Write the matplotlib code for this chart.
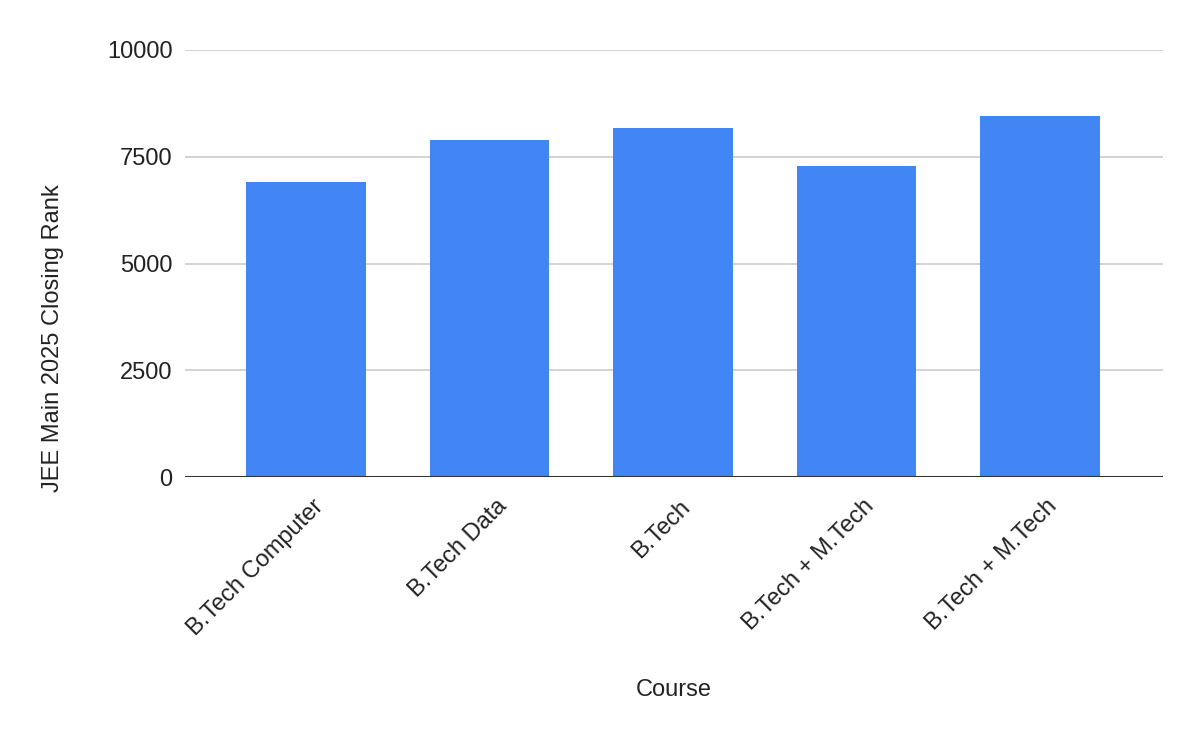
import numpy as np
from matplotlib import pyplot as plt
from matplotlib.transforms import ScaledTranslation

# course names (two of them are the same in the source chart)
courses = ["B.Tech Computer", "B.Tech Data", "B.Tech", "B.Tech + M.Tech", "B.Tech + M.Tech"]
closing_rank = [6905, 7890, 8170, 7280, 8450]
y_ticks = [0, 2500, 5000, 7500, 10000]

plt.rcParams['font.family'] = ['Liberation Sans', 'DejaVu Sans']

fig = plt.figure(figsize=(12, 7.42), dpi=100)
ax = fig.add_axes([185/1200, 1 - 477/742, 978/1200, 427/742])

x = np.arange(len(courses))
ax.bar(x, closing_rank, width=0.65, color="#4285F4", zorder=2)

ax.set_xlim(-0.66, 4.67)
ax.set_ylim(0, 10000)
ax.set_yticks(y_ticks)
ax.set_yticklabels([str(t) for t in y_ticks])
ax.yaxis.grid(True, color="#cccccc", linewidth=1.2, zorder=0)
ax.axhline(0, color="#333333", linewidth=1.5, zorder=3)

for s in ax.spines.values():
    s.set_visible(False)

ax.tick_params(axis='y', length=0, pad=9, labelsize=17, labelcolor="#222222")
ax.tick_params(axis='x', length=0, pad=19, labelsize=17, labelcolor="#222222")

ax.set_xticks(x)
ax.set_xticklabels(courses, rotation=45, ha='right', va='center', rotation_mode='anchor')
shift = ScaledTranslation(14/100, 0, fig.dpi_scale_trans)
for lab in ax.get_xticklabels():
    lab.set_transform(lab.get_transform() + shift)

ax.set_xlabel("Course", fontsize=17, color="#222222")
ax.xaxis.set_label_coords(0.5, (477 - 690) / 427)
ax.xaxis.label.set_va('center')

ax.set_ylabel("JEE Main 2025 Closing Rank", fontsize=17, color="#222222")
ax.yaxis.set_label_coords((53 - 185) / 978, (477 - 338) / 427)
ax.yaxis.label.set_va('center')

fig.savefig("out.png", dpi=100)
